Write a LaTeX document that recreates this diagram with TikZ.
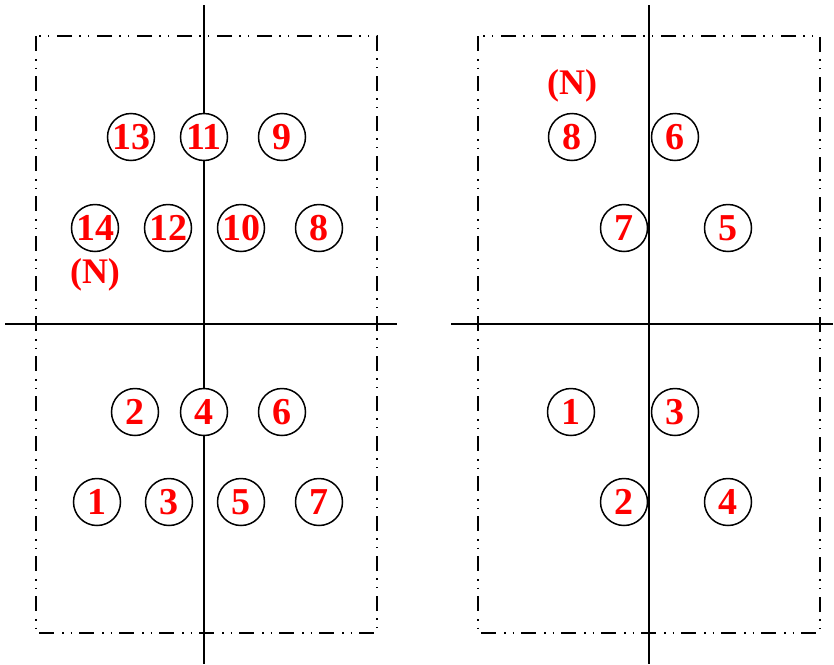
\documentclass[tikz,border=0pt]{standalone}
\usepackage{fontspec}
\setmainfont{Liberation Serif}
\begin{document}
\begin{tikzpicture}[x=1pt,y=-1pt,
  axis/.style={line width=1.5pt,black},
  frame/.style={line width=1.5pt,black,dash pattern=on 15pt off 8pt on 1.5pt off 7pt on 1.5pt off 7pt},
  num/.style={circle,draw=black,line width=1.5pt,fill=white,minimum size=47pt,inner sep=0pt,
     text=red,font=\fontsize{38}{38}\selectfont\bfseries},
  nlab/.style={text=red,font=\fontsize{36}{36}\selectfont\bfseries,inner sep=0pt}]
\useasboundingbox (0,0) rectangle (834,664);
% left panel
\draw[frame] (36,36) rectangle (377,633);
\coordinate (lt) at (204,5); \coordinate (lb) at (204,664);
\coordinate (ll) at (5,324); \coordinate (lr) at (397,324);
\draw[axis] (lt) -- (lb);
\draw[axis] (ll) -- (lr);
\node[num] (L13) at (131,137) {\raisebox{-2pt}{13}};
\node[num] (L11) at (204,137) {\raisebox{-2pt}{11}};
\node[num] (L9) at (282,137) {\raisebox{-2pt}{9}};
\node[num] (L14) at (95,228) {\raisebox{-2pt}{14}};
\node[num] (L12) at (168,228) {\raisebox{-2pt}{12}};
\node[num] (L10) at (241,228) {\raisebox{-2pt}{10}};
\node[num] (L8) at (319,228) {\raisebox{-2pt}{8}};
\node[nlab] (LN) at (95,275) {(N)};
\node[num] (L2) at (135,412) {\raisebox{-2pt}{2}};
\node[num] (L4) at (204,412) {\raisebox{-2pt}{4}};
\node[num] (L6) at (282,412) {\raisebox{-2pt}{6}};
\node[num] (L1) at (97,502) {\raisebox{-2pt}{1}};
\node[num] (L3) at (169,502) {\raisebox{-2pt}{3}};
\node[num] (L5) at (241,502) {\raisebox{-2pt}{5}};
\node[num] (L7) at (319,502) {\raisebox{-2pt}{7}};
% right panel
\draw[frame] (478,36) rectangle (820,633);
\coordinate (rt) at (649,5); \coordinate (rb) at (649,664);
\coordinate (rl) at (451,324); \coordinate (rr) at (833,324);
\draw[axis] (rt) -- (rb);
\draw[axis] (rl) -- (rr);
\node[nlab] (RN) at (572,86) {(N)};
\node[num] (R8) at (572,137) {\raisebox{-2pt}{8}};
\node[num] (R6) at (675,137) {\raisebox{-2pt}{6}};
\node[num] (R7) at (624,228) {\raisebox{-2pt}{7}};
\node[num] (R5) at (728,228) {\raisebox{-2pt}{5}};
\node[num] (R1) at (571,412) {\raisebox{-2pt}{1}};
\node[num] (R3) at (675,412) {\raisebox{-2pt}{3}};
\node[num] (R2) at (624,502) {\raisebox{-2pt}{2}};
\node[num] (R4) at (728,502) {\raisebox{-2pt}{4}};
\end{tikzpicture}
\end{document}
